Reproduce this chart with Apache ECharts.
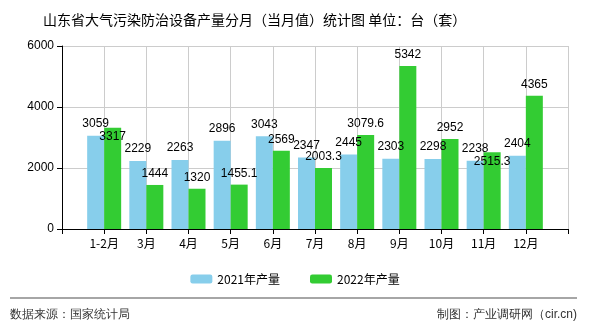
<!DOCTYPE html>
<html><head><meta charset="utf-8">
<script src="https://cdn.jsdelivr.net/npm/echarts@6/dist/echarts.min.js"></script>
<style>html,body{margin:0;padding:0;background:#fff}#c{width:590px;height:330px}</style>
</head><body><div id="c"></div>
<script>
var categories = ['1-2月','3月','4月','5月','6月','7月','8月','9月','10月','11月','12月'];
var values2021 = [3059,2229,2263,2896,3043,2347,2445,2303,2298,2238,2404];
var values2022 = [3317,1444,1320,1455.1,2569,2003.3,3079.6,5342,2952,2515.3,4365];
var yTicks = [0,2000,4000,6000];
var labelFont = {fontSize:12, color:'#000', fontFamily:'"Liberation Sans", sans-serif'};
var lowLabel = {0:true, 9:true};
// axis slots: one empty slot on each side so the categories sit on ticks 1..11 of 0..12
var axisCats = [''].concat(categories).concat(['']);
function pad(arr){ return [null].concat(arr).concat([null]); }
var chart = echarts.init(document.getElementById('c'));
chart.setOption({
  animation:false,
  backgroundColor:'#fff',
  title:{text:'山东省大气污染防治设备产量分月（当月值）统计图 单位：台（套）', left:38, top:8,
    textStyle:{fontSize:14, fontWeight:'normal', color:'#000', fontFamily:'"Noto Sans CJK SC", sans-serif'}},
  grid:{left:62, right:22, top:46, bottom:101},
  legend:{top:268, left:'center', itemWidth:22, itemHeight:9, itemGap:30,
    textStyle:{fontSize:12, color:'#000', fontFamily:'"Noto Sans CJK SC", sans-serif'},
    data:['2021年产量','2022年产量']},
  xAxis:{type:'category', data:axisCats, boundaryGap:false,
    axisLine:{lineStyle:{color:'#000'}},
    axisTick:{show:true, interval:0, lineStyle:{color:'#000'}},
    axisLabel:{color:'#000', fontSize:12, margin:8, interval:0, fontFamily:'"Noto Sans CJK SC", sans-serif'},
    splitLine:{show:true, interval:0, lineStyle:{color:'#ccc'}}},
  yAxis:{type:'value', min:yTicks[0], max:yTicks[yTicks.length-1], interval:2000,
    axisLine:{show:true, lineStyle:{color:'#000'}},
    axisTick:{show:true, lineStyle:{color:'#000'}},
    axisLabel:{color:'#000', fontSize:12, margin:8, formatter:function(v){return String(v);}},
    splitLine:{show:true, lineStyle:{color:'#ccc'}}},
  series:[
    {name:'2021年产量', type:'bar', data:pad(values2021), barGap:'0%', barWidth:17,
     itemStyle:{color:'#87CEEB'},
     label:{show:true, position:'top', distance:6, textStyle:labelFont}},
    {name:'2022年产量', type:'bar', barWidth:17, data:pad(values2022.map(function(v,i){
        return lowLabel[i] ? {value:v, label:{offset:[0,20]}} : v;})),
     itemStyle:{color:'#33CC33'},
     label:{show:true, position:'top', distance:5, textStyle:labelFont}}
  ],
  graphic:[
    {type:'line', shape:{x1:10,y1:298,x2:577,y2:298}, style:{stroke:'#888', lineWidth:1.5}},
    {type:'text', left:10, top:309, style:{text:'数据来源：国家统计局', fontSize:12, fill:'#333', font:'12px "Noto Sans CJK SC", sans-serif'}},
    {type:'text', right:13, top:309, style:{text:'制图：产业调研网（cir.cn)', fontSize:12, fill:'#333', font:'12px "Noto Sans CJK SC", sans-serif'}}
  ]
});
</script></body></html>
